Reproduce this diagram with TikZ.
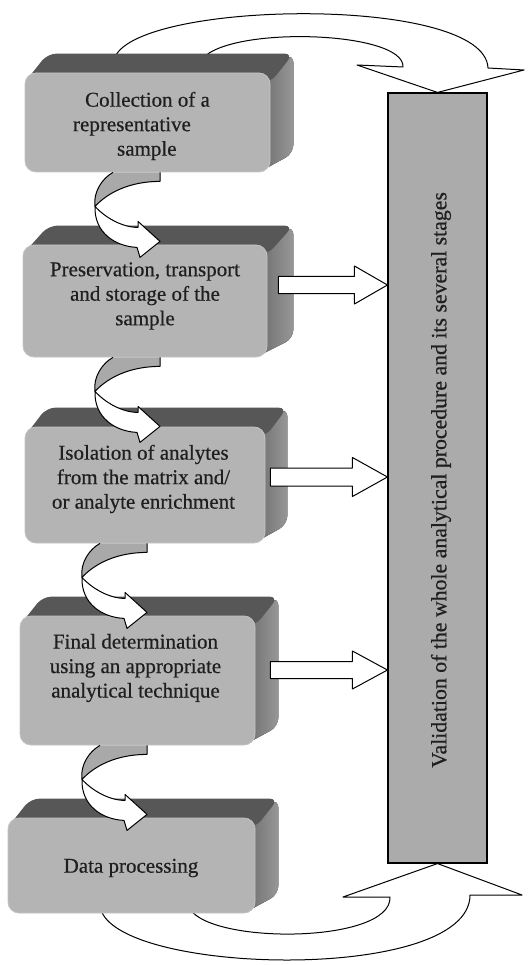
\documentclass[tikz,border=0pt]{standalone}
\usepackage{fontspec}
\setmainfont{Liberation Serif}[FakeBold=0.5]
\usetikzlibrary{calc}

\definecolor{facegray}{HTML}{B4B4B4}
\definecolor{facerim}{HTML}{C4C4C4}
\definecolor{topgray}{HTML}{575757}
\definecolor{sidedark}{HTML}{6A6A6A}
\definecolor{sidelight}{HTML}{979797}
\definecolor{ribbongray}{HTML}{A9A9A9}
\definecolor{valgray}{HTML}{ABABAB}

\pgfdeclarelayer{bg}
\pgfdeclarelayer{back}
\pgfsetlayers{bg,back,main}

\tikzset{
  face/.style={draw=facerim, line width=0.8pt, fill=facegray, rounded corners=11pt, inner sep=0pt},
  toplid/.style={fill=topgray, rounded corners=9pt},
  sideface/.style={left color=sidedark, right color=sidelight, rounded corners=9pt},
  steptext/.style={font=\fontsize{21}{24.5}\selectfont, align=center, inner sep=0pt, text=black!88},
  outline/.style={draw=black, line width=1pt, line join=round},
  valbar/.style={draw=black, line width=1.1pt, fill=valgray, inner sep=0pt}
}

% raised box: name, x1, y1, x2, y2 (front face), horizontal depth
\newcommand\drawbox[6]{%
  \node[face, minimum width={(#4-#2)*1pt}, minimum height={(#5-#3)*1pt}]
    (#1) at ({(#2+#4)/2},{(#3+#5)/2}) {};
  \begin{pgfonlayer}{back}
    \fill[sideface] ($(#1.north east)+(-12,0)$) -- ($(#1.north east)+(#6,-19)$)
      -- ($(#1.south east)+(#6,-19)$) -- ($(#1.south east)+(-12,0)$) -- cycle;
    \fill[toplid] ($(#1.north west)+(0,10)$) -- ($(#1.north west)+(#6,-19)$)
      -- ($(#1.north east)+(#6,-19)$) -- ($(#1.north east)+(0,10)$) -- cycle;
  \end{pgfonlayer}
}

% curled ribbon arrow hanging below a box; origin at the ribbon's top right
\newcommand\curlarrow[1]{%
  \begin{scope}[shift={(#1)}]
    \fill[ribbongray] (-47,0) .. controls (-58,6) and (-67,20) .. (-65,34)
      .. controls (-52,20) and (-30,9) .. (0,9) -- (0,0) -- cycle;
    \draw[outline] (-47,0) .. controls (-58,6) and (-67,20) .. (-65,34)
      .. controls (-52,20) and (-30,9) .. (0,9) -- (0,0);
    \filldraw[outline, fill=white] (-65,34) .. controls (-55,45) and (-38,55) .. (-22,55)
      -- (-22,49) -- (0,69) -- (-20,85) -- (-23,75)
      .. controls (-45,74) and (-66,60) .. (-65,34) -- cycle;
  \end{scope}
}

% straight block arrow: start, target, half shaft, half head, head length
\newcommand\blockarrow[5]{%
  \draw[outline, fill=white] let \p1=(#1), \p2=(#2) in
    (\x1,\y1+#3) -- (\x2-#5,\y1+#3) -- (\x2-#5,\y1+#4) -- (\x2,\y1)
    -- (\x2-#5,\y1-#4) -- (\x2-#5,\y1-#3) -- (\x1,\y1-#3) -- cycle;
}

\begin{document}
\begin{tikzpicture}[x=1pt, y=-1pt]
\useasboundingbox (0,0) rectangle (527,965);
\begin{pgfonlayer}{bg}
  \fill[white] (0,0) rectangle (527,965);
\end{pgfonlayer}

% validation bar
\node[valbar, minimum width=99pt, minimum height=770pt] (val) at (437.5,478) {};
\node[steptext, font=\fontsize{21.8}{24.5}\selectfont, rotate=90] (valtext) at (441,480)
  {Validation of the whole analytical procedure and its several stages};

% stage boxes
\drawbox{b1}{25}{73}{270}{172}{23}
\drawbox{b2}{23}{245}{267}{357}{26}
\drawbox{b3}{25}{427}{265}{543}{22}
\drawbox{b4}{20}{616}{255}{745}{23}
\drawbox{b5}{8}{818}{255}{913}{23}

\node[steptext, align=left] (t1) at (141.5,126)
  {\hspace*{12pt}Collection of a\\representative\\\hspace*{44pt}sample};
\node[steptext] (t2) at (145,296) {Preservation, transport\\and storage of the\\sample};
\node[steptext] (t3) at (143.5,479) {Isolation of analytes\\from the matrix and/\\or analyte enrichment};
\node[steptext] (t4) at (135.5,668) {Final determination\\using an appropriate\\analytical technique};
\node[steptext] (t5) at (131,868) {Data processing};

% big return arrows round the whole chain
\begin{pgfonlayer}{bg}
  \draw[outline, fill=white] (115,75) -- (115,57)
    .. controls (140,0) and (485,-5) .. (488,68) -- (524,70) -- (val.north)
    -- (357,65) -- (403,67) .. controls (405,30) and (220,25) .. (200,62)
    -- (200,75) -- cycle;
  \draw[outline, fill=white] (100,895) -- (100,905)
    .. controls (105,975) and (470,985) .. (470,895) -- (522,895) -- (val.south)
    -- (343,897) -- (390,897) .. controls (392,945) and (200,945) .. (188,905)
    -- (188,895) -- cycle;
\end{pgfonlayer}

% links from one stage to the next
\coordinate (c1) at ($(b1.south)+(12.5,0)$);
\coordinate (c2) at ($(b2.south)+(15,0)$);
\coordinate (c3) at ($(b3.south)+(2,0)$);
\coordinate (c4) at ($(b4.south)+(9.5,0)$);
\curlarrow{c1}
\curlarrow{c2}
\curlarrow{c3}
\curlarrow{c4}

% arrows into the validation bar
\coordinate (a2) at ($(b2.east)+(11,-16)$);
\coordinate (a3) at ($(b3.east)+(5,-8)$);
\coordinate (a4) at ($(b4.east)+(15,-10.5)$);
\blockarrow{a2}{val.west |- a2}{8.5pt}{19pt}{33pt}
\blockarrow{a3}{val.west |- a3}{9pt}{19.5pt}{35pt}
\blockarrow{a4}{val.west |- a4}{8.5pt}{19pt}{35pt}
\end{tikzpicture}
\end{document}
